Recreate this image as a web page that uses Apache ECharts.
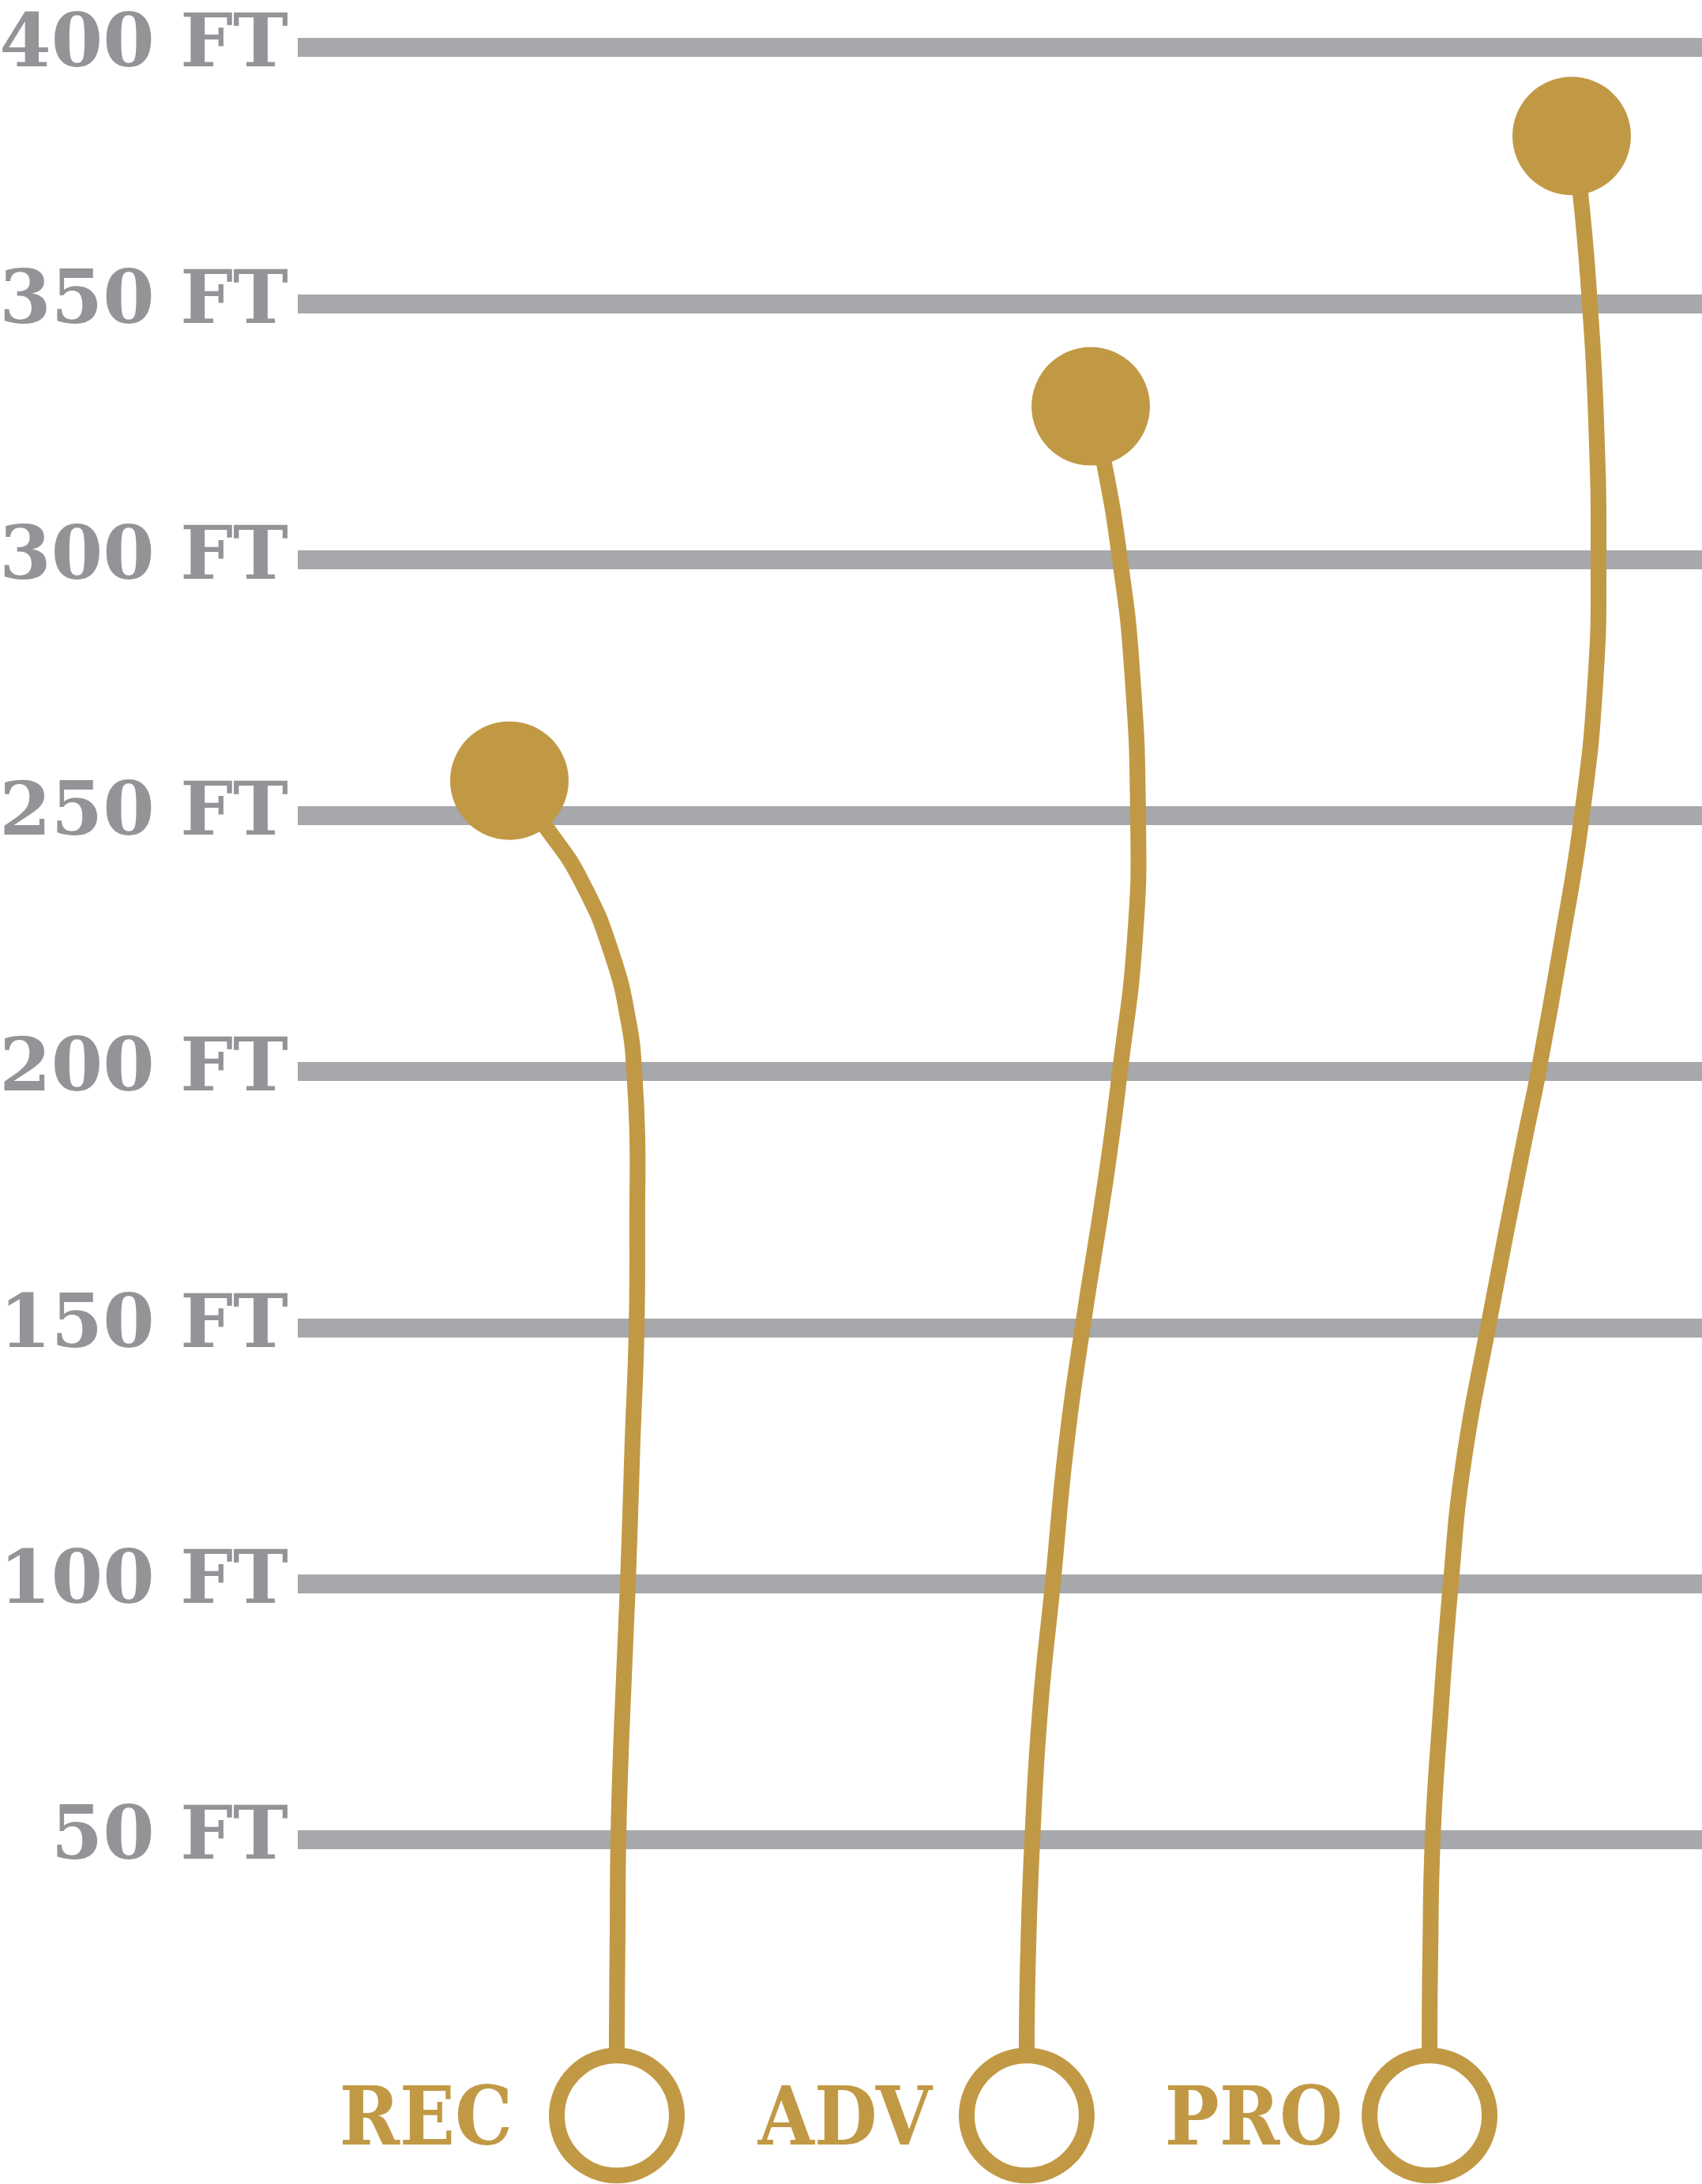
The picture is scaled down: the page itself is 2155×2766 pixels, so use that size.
<!DOCTYPE html>
<html>
<head>
<meta charset="utf-8">
<script src="https://cdn.jsdelivr.net/npm/echarts@6/dist/echarts.min.js"></script>
<style>
  html, body { margin: 0; padding: 0; background: #fff; }
  #chart { width: 2155px; height: 2766px; }
</style>
</head>
<body>
<div id="chart"></div>
<script>
// levels
const categories = ['REC', 'ADV', 'PRO']
const tickValues = [50, 100, 150, 200, 250, 300, 350, 400]

// each path: [horizontal position (% of plot width), height in ft], from base ring up to the peak dot
const recPath = [
  [22.72, -3.9], [22.72, 11.0], [22.78, 33.3], [22.83, 50], [23.06, 70.8],
  [23.51, 100], [23.83, 126.8], [24.13, 150], [24.18, 173.4], [24.18, 187.6],
  [23.96, 200], [23.62, 208.8], [22.39, 222.8], [20.25, 236.9], [17.89, 246.9],
  [15.07, 256.8]
]
const advPath = [
  [51.91, -3.9], [51.91, 11.0], [52.02, 28.7], [52.31, 50], [52.87, 75.4],
  [53.77, 100], [54.72, 126.8], [55.89, 150], [57.54, 179], [58.55, 200],
  [59.62, 226], [59.84, 250], [59.39, 279.2], [58.55, 300], [57.48, 318],
  [56.47, 329.9]
]
const proPath = [
  [80.60, -3.9], [80.60, 11.6], [80.65, 27.3], [80.82, 50], [81.33, 72.6],
  [82.11, 100], [83.01, 123.5], [84.76, 150], [87.29, 185.7], [88.36, 200],
  [89.99, 225], [91.45, 250], [92.41, 276.2], [92.63, 300], [92.46, 327.2],
  [92.01, 350], [91.32, 372], [90.72, 382.7]
]
const paths = [recPath, advPath, proPath]

const gold = '#c19945'
const gridGray = '#a7a8ab'
const textGray = '#939498'
const labelGap = [46, 34, 24] // gap between level name and its ring

const myChart = echarts.init(document.getElementById('chart'))

// the line series smoothing is clamped per segment, so draw each path as one smooth polyline
const curveSeries = paths.map((p, i) => ({
  name: categories[i],
  type: 'custom',
  data: p,
  clip: false,
  z: 3,
  renderItem: (params, api) => {
    if (params.dataIndex !== 0) return null
    return {
      type: 'polyline',
      shape: { points: p.map(d => api.coord(d)), smooth: 0.5 },
      style: { stroke: gold, lineWidth: 20, fill: null }
    }
  }
}))

const option = {
  animation: false,
  backgroundColor: '#fff',
  grid: { left: 377, right: 0, top: 60, bottom: 112, outerBoundsMode: 'none', containLabel: false },
  xAxis: {
    type: 'value',
    min: 0,
    max: 100,
    show: false
  },
  yAxis: {
    type: 'value',
    min: 0,
    max: 400,
    interval: 50,
    axisLine: { show: false },
    axisTick: { show: false },
    axisLabel: {
      showMinLabel: false,
      margin: 12,
      color: textGray,
      fontFamily: 'DejaVu Serif',
      fontWeight: 'bold',
      fontSize: 94,
      formatter: v => (tickValues.indexOf(v) >= 0 ? v + ' FT' : '')
    },
    splitLine: {
      show: true,
      showMinLine: false,
      lineStyle: { color: gridGray, width: 24 }
    }
  },
  series: [
    ...curveSeries,
    {
      // peak dots
      type: 'scatter',
      data: paths.map(p => p[p.length - 1]),
      symbolSize: 150,
      clip: false,
      itemStyle: { color: gold, opacity: 1 },
      z: 5
    },
    {
      // base rings with level names
      type: 'scatter',
      data: paths.map((p, i) => ({
        name: categories[i],
        value: p[0],
        label: { distance: labelGap[i] }
      })),
      symbolSize: 152,
      clip: false,
      itemStyle: { color: '#fff', borderColor: gold, borderWidth: 20, opacity: 1 },
      label: {
        show: true,
        position: 'left',
        offset: [0, 10],
        formatter: '{b}',
        color: gold,
        fontFamily: '"DejaVu Serif Condensed", "DejaVu Serif"',
        fontWeight: 'bold',
        fontSize: 102
      },
      z: 5
    }
  ]
}
myChart.setOption(option)
</script>
</body>
</html>
